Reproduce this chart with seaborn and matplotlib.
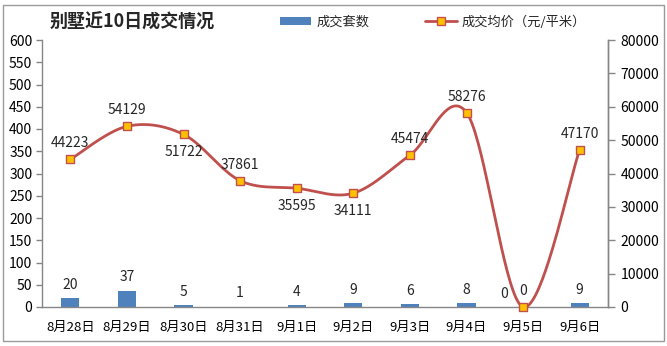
import numpy as np
import pandas as pd
import matplotlib
matplotlib.use("Agg")
import matplotlib.pyplot as plt
import seaborn as sns
from matplotlib.patches import Patch, Rectangle
from matplotlib.lines import Line2D

# ---- data ----
dates = ["8月28日", "8月29日", "8月30日", "8月31日", "9月1日",
         "9月2日", "9月3日", "9月4日", "9月5日", "9月6日"]
deals = [20, 37, 5, 1, 4, 9, 6, 8, 0, 9]
avg_price = [44223, 54129, 51722, 37861, 35595, 34111, 45474, 58276, 0, 47170]
price_label_below = [False, False, True, False, True, True, False, False, False, False]

BAR_BLUE = "#4F81BD"
LINE_RED = "#C0504D"
MARK_ORANGE = "#FFC000"
AXIS_GRAY = "#868686"

sns.set_theme(style="white")
plt.rcParams["font.family"] = ["Noto Sans CJK SC", "DejaVu Sans"]
plt.rcParams["font.size"] = 9.5

W, H = 667, 346
fig = plt.figure(figsize=(W / 100, H / 100), dpi=100)
fig.patch.set_facecolor("white")

# chart frame
fig.patches.append(Rectangle((3 / W, 1 - 341 / H), 661 / W, 336 / H,
                             transform=fig.transFigure, fill=False,
                             edgecolor="#9A9A9A", linewidth=1.0))

x0, x1, y0, y1 = 42, 608, 307, 40
ax = fig.add_axes([x0 / W, 1 - y0 / H, (x1 - x0) / W, (y0 - y1) / H])
ax.set_facecolor("none")

df = pd.DataFrame({"date": dates, "deals": deals, "price": avg_price})
sns.barplot(data=df, x="date", y="deals", color=BAR_BLUE, width=0.32,
            saturation=1, edgecolor="none", ax=ax)

ax.set_xlim(-0.5, 9.5)
ax.set_ylim(0, 600)
ax.set_yticks(np.arange(0, 601, 50))
ax.set_xlabel("")
ax.set_ylabel("")
ax.set_xticks(np.arange(-0.5, 10, 1), minor=True)
ax.tick_params(axis="x", which="major", length=0, pad=10, labelsize=9.5, colors="black")
ax.tick_params(axis="x", which="minor", length=5, width=1, color=AXIS_GRAY, direction="out")
ax.tick_params(axis="y", which="major", length=4, width=1, color=AXIS_GRAY,
               direction="out", pad=3, labelsize=10, labelcolor="black", left=True)

for i, v in enumerate(deals):
    dx = -13.5 if v == 0 else 0
    ax.annotate(str(v), (i, v), xytext=(dx, 9.5), textcoords="offset points",
                ha="center", va="center", fontsize=10)

# ---- secondary axis: average price ----
ax2 = ax.twinx()
ax2.set_ylim(0, 80000)
ax2.set_yticks(np.arange(0, 80001, 10000))
ax2.tick_params(axis="y", which="major", length=5, width=1, color=AXIS_GRAY,
                direction="out", pad=4, labelsize=10, labelcolor="black", right=True)
ax2.set_ylabel("")

for a in (ax, ax2):
    a.spines["top"].set_visible(False)
    for s in ("left", "right", "bottom"):
        a.spines[s].set_color(AXIS_GRAY)
        a.spines[s].set_linewidth(1.0)
ax2.spines["left"].set_visible(False)
ax2.spines["bottom"].set_visible(False)


def smooth_curve(xs, ys, sx, sy, n=40):
    """Catmull-Rom style smoothing (Bezier segments) computed in pixel space."""
    P = np.column_stack([np.asarray(xs, float) * sx, np.asarray(ys, float) * sy])
    pts = np.vstack([P[0], P, P[-1]])
    out = []
    t = np.linspace(0, 1, n)[:, None]
    for k in range(1, len(pts) - 2):
        p0, p1, p2, p3 = pts[k - 1], pts[k], pts[k + 1], pts[k + 2]
        c1 = p1 + (p2 - p0) / 6
        c2 = p2 - (p3 - p1) / 6
        seg = ((1 - t) ** 3) * p1 + 3 * ((1 - t) ** 2) * t * c1 + 3 * (1 - t) * t ** 2 * c2 + t ** 3 * p2
        out.append(seg if k == 1 else seg[1:])
    out = np.vstack(out)
    return out[:, 0] / sx, out[:, 1] / sy


xi = np.arange(len(avg_price))
sx = (x1 - x0) / 10.0
sy = (y0 - y1) / 80000.0
cx, cy = smooth_curve(xi, avg_price, sx, sy)
ax2.plot(cx, cy, color=LINE_RED, linewidth=2.0, solid_capstyle="round",
         clip_on=False, zorder=3)
sns.scatterplot(x=xi, y=avg_price, marker="s", s=36, color=MARK_ORANGE,
                edgecolor=LINE_RED, linewidth=1.0, ax=ax2, zorder=4,
                clip_on=False, legend=False)

for i, v in enumerate(avg_price):
    dy = -12.5 if price_label_below[i] else 11.5
    ax2.annotate(str(v), (i, v), xytext=(0, dy), textcoords="offset points",
                 ha="center", va="center", fontsize=10)

# ---- title and legend ----
fig.text(50 / W, 1 - 22 / H, "别墅近10日成交情况", fontsize=13, fontweight="bold",
         ha="left", va="center")

handles = [
    Patch(facecolor=BAR_BLUE, edgecolor="none"),
    Line2D([0], [0], color=LINE_RED, linewidth=2.0, marker="s", markersize=5.5,
           markerfacecolor=MARK_ORANGE, markeredgecolor=LINE_RED),
]
fig.legend(handles, ["成交套数", "成交均价（元/平米）"], loc="center",
           bbox_to_anchor=(433 / W, 1 - 22 / H), ncol=2, frameon=False,
           fontsize=9.5, handlelength=2.4, handleheight=0.6, handletextpad=0.4,
           columnspacing=4.2)

fig.savefig("out.png", dpi=100, facecolor="white")
